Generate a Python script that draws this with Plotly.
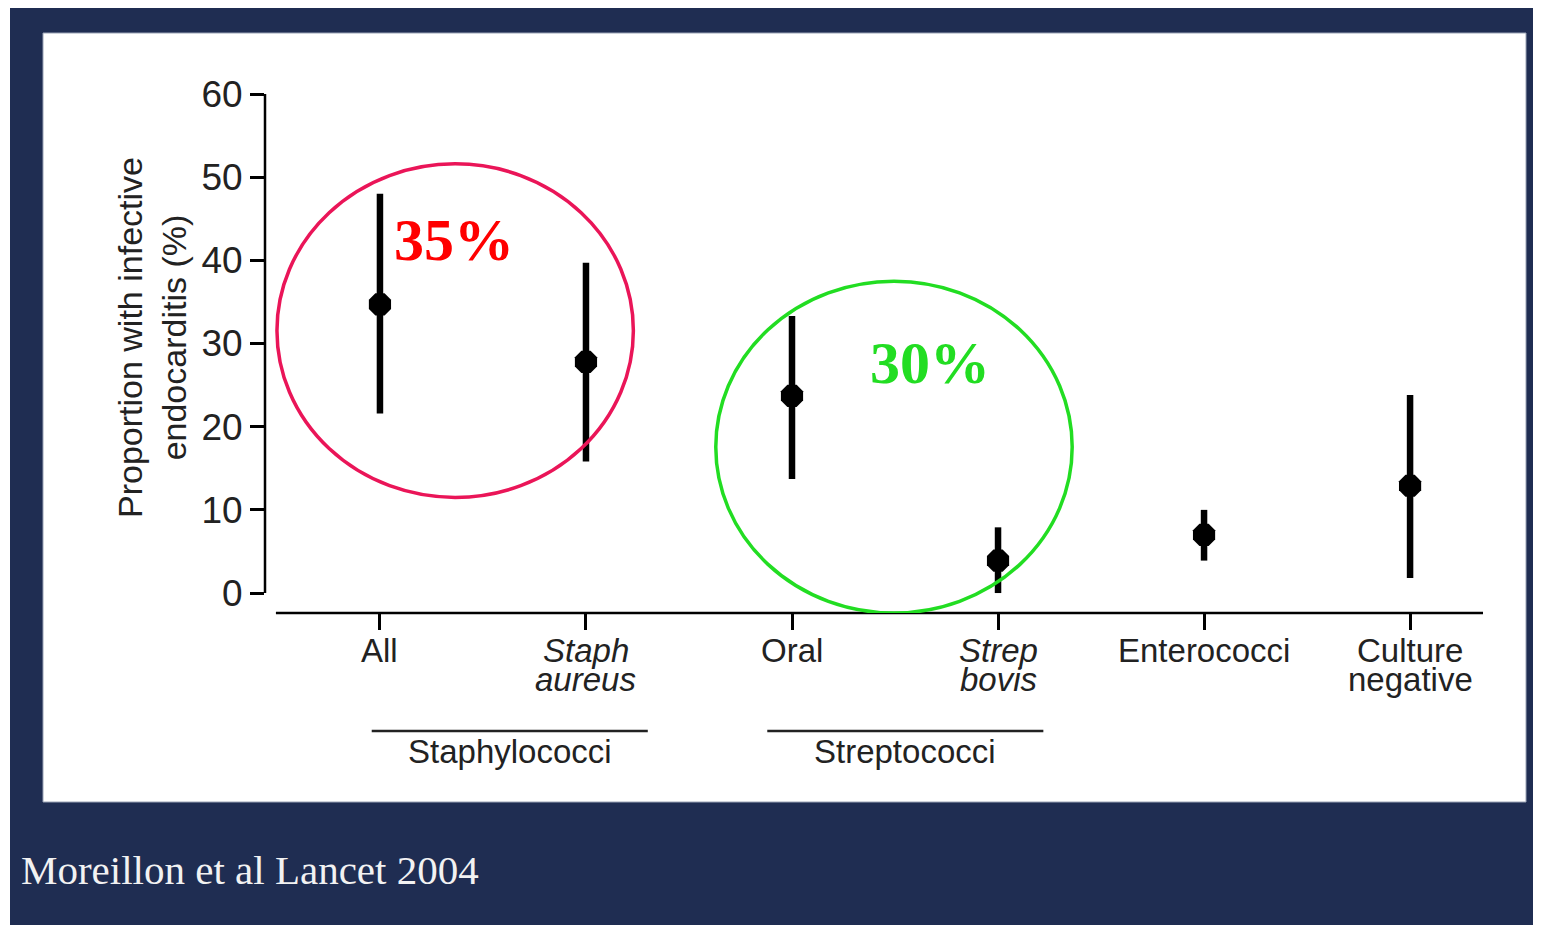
import plotly.graph_objects as go

# data (Moreillon et al, Lancet 2004)
categories = ["All", "Staph aureus", "Oral", "Strep bovis", "Enterococci", "Culture negative"]
label_line1 = ["All", "<i>Staph</i>", "Oral", "<i>Strep</i>", "Enterococci", "Culture"]
label_line2 = ["", "<i>aureus</i>", "", "<i>bovis</i>", "", "negative"]
proportion = [34.7, 27.8, 23.7, 3.9, 7.0, 12.9]
ci_low = [21.6, 15.8, 13.7, 0.0, 3.9, 1.8]
ci_high = [48.0, 39.7, 33.3, 7.9, 10.0, 23.8]

group_names = ["Staphylococci", "Streptococci"]
group_start = [-0.04, 1.88]
group_end = [1.30, 3.22]

# highlight rings and their labels (data units)
ring_labels = ["35%", "30%"]
ring_colors = ["#ea1558", "#22dd22"]
ring_text_colors = ["#ff0000", "#22dd22"]
ring_x0 = [-0.50, 1.63]
ring_x1 = [1.23, 3.36]
ring_y0 = [11.5, -2.4]
ring_y1 = [51.6, 37.5]
ring_text_x = [0.36, 2.67]
ring_text_y = [42.4, 27.6]

caption = "Moreillon et al Lancet 2004"

# plot-area box in screenshot pixels; page body adds an 8px offset
OFF = 8
W, H = 1541 - OFF, 925 - OFF
PX_L, PX_R, PX_T, PX_B = 265, 1483, 94, 613
def paper_x(px):
    return (px - PX_L) / (PX_R - PX_L)
def paper_y(py):
    return (PX_B - py) / (PX_B - PX_T)

x_pos = list(range(len(categories)))
err_up = [h - v for h, v in zip(ci_high, proportion)]
err_dn = [v - l for v, l in zip(proportion, ci_low)]

fig = go.Figure()
fig.add_trace(go.Scatter(
    x=x_pos, y=proportion, mode="markers",
    marker=dict(color="black", size=24, symbol="octagon"),
    error_y=dict(type="data", array=err_up, arrayminus=err_dn,
                 thickness=6.5, width=0, color="black"),
    text=categories, hoverinfo="text+y", showlegend=False,
))

sans = "Liberation Sans, Arial"
serif = "Liberation Serif, Times New Roman"

shapes = []
# navy slide background + white panel
shapes.append(dict(type="rect", xref="paper", yref="paper", layer="below",
                   x0=paper_x(10), x1=paper_x(1560), y0=paper_y(6), y1=paper_y(950),
                   fillcolor="#1f2d52", line=dict(width=0)))
shapes.append(dict(type="rect", xref="paper", yref="paper", layer="below",
                   x0=paper_x(43), x1=paper_x(1526), y0=paper_y(33), y1=paper_y(802),
                   fillcolor="white", line=dict(color="#9aa3b5", width=1)))
# axis lines (offset Prism style)
shapes.append(dict(type="line", xref="paper", yref="y", x0=0, x1=0, y0=0, y1=60,
                   line=dict(color="black", width=2.5)))
shapes.append(dict(type="line", xref="x", yref="paper", x0=-0.505, x1=5.354, y0=0, y1=0,
                   line=dict(color="black", width=2.5)))
# group brackets
for g0, g1 in zip(group_start, group_end):
    shapes.append(dict(type="line", xref="x", yref="paper", x0=g0, x1=g1,
                       y0=paper_y(731), y1=paper_y(731),
                       line=dict(color="#222", width=2.5)))
# highlight rings
for c, x0, x1, y0, y1 in zip(ring_colors, ring_x0, ring_x1, ring_y0, ring_y1):
    shapes.append(dict(type="circle", xref="x", yref="y", x0=x0, x1=x1, y0=y0, y1=y1,
                       line=dict(color=c, width=3.5)))

annotations = []
# category labels, two tight lines
for x, l1, l2 in zip(x_pos, label_line1, label_line2):
    for txt, py in ((l1, 650), (l2, 679)):
        if txt:
            annotations.append(dict(text=txt, xref="x", yref="paper", x=x, y=paper_y(py),
                                    xanchor="center", yanchor="middle", showarrow=False,
                                    font=dict(family=sans, size=33, color="#222")))
for name, g0, g1 in zip(group_names, group_start, group_end):
    annotations.append(dict(text=name, xref="x", yref="paper", x=(g0 + g1) / 2,
                            y=paper_y(751), xanchor="center", yanchor="middle", showarrow=False,
                            font=dict(family=sans, size=33, color="#222")))
for t, c, x, y in zip(ring_labels, ring_text_colors, ring_text_x, ring_text_y):
    annotations.append(dict(text="<b>" + t + "</b>", xref="x", yref="y", x=x, y=y,
                            xanchor="center", yanchor="middle", showarrow=False,
                            font=dict(family=serif, size=60, color=c)))
annotations.append(dict(text="Proportion with infective<br>endocarditis (%)",
                        xref="paper", yref="paper", x=paper_x(152), y=paper_y(338),
                        xanchor="center", yanchor="middle", textangle=-90, showarrow=False,
                        font=dict(family=sans, size=34, color="#222")))
annotations.append(dict(text=caption, xref="paper", yref="paper",
                        x=paper_x(19), y=paper_y(870), xanchor="left", yanchor="middle",
                        showarrow=False, font=dict(family=serif, size=41, color="#f2f2f2")))

fig.update_layout(
    width=W, height=H,
    margin=dict(l=PX_L - OFF, r=W - (PX_R - OFF), t=PX_T - OFF, b=H - (PX_B - OFF)),
    paper_bgcolor="white", plot_bgcolor="rgba(0,0,0,0)",
    shapes=shapes, annotations=annotations,
    xaxis=dict(range=[-0.558, 5.354], tickvals=x_pos, showticklabels=False,
               showgrid=False, zeroline=False, showline=False,
               ticks="outside", ticklen=16, tickwidth=2.5, tickcolor="black"),
    yaxis=dict(range=[-2.4, 60], tickvals=[0, 10, 20, 30, 40, 50, 60],
               showgrid=False, zeroline=False, showline=False,
               ticks="outside", ticklen=14, tickwidth=2.5, tickcolor="black",
               tickfont=dict(family=sans, size=37, color="#222")),
)

fig.write_html("out.html")
